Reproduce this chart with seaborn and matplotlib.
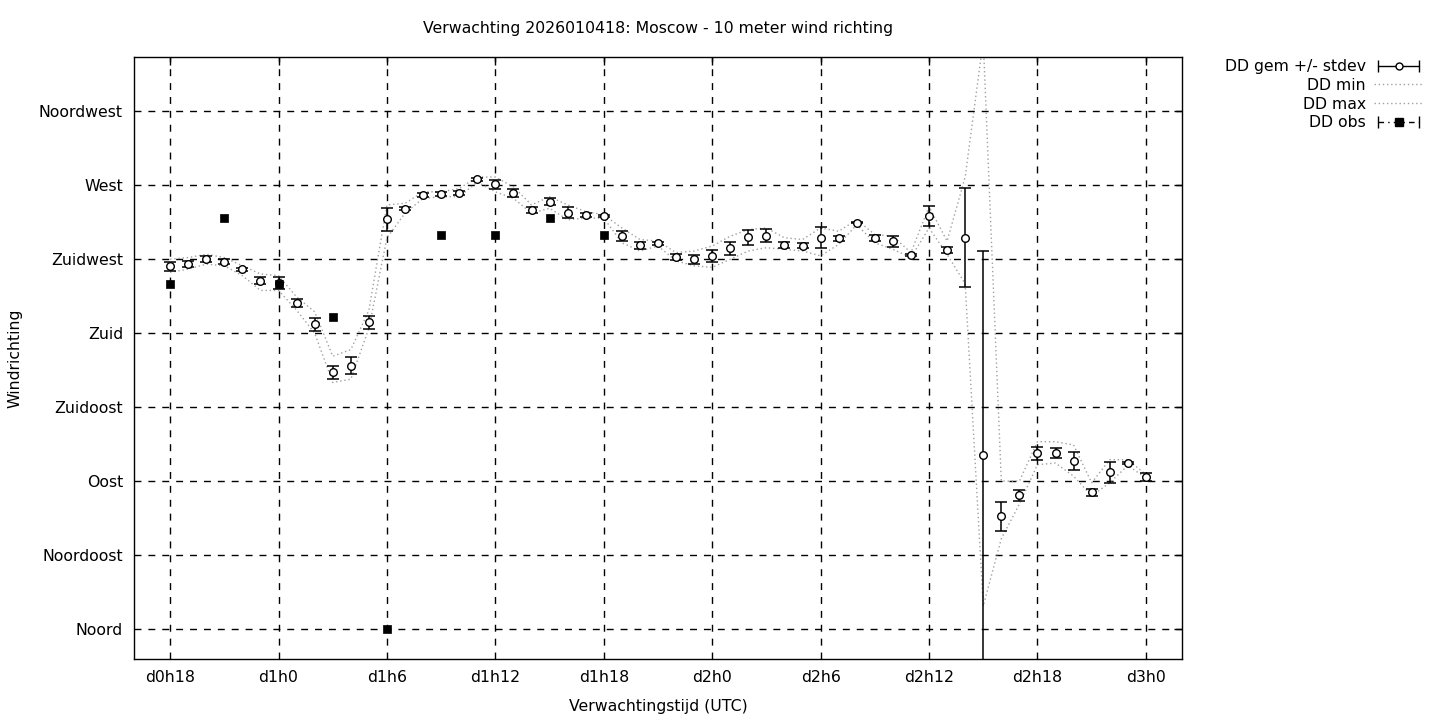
import numpy as np
import pandas as pd
import matplotlib
matplotlib.use("Agg")
import matplotlib.pyplot as plt
import seaborn as sns
from matplotlib.lines import Line2D
from matplotlib.legend_handler import HandlerLine2D

# ---------------- data ----------------
hours = [18, 19, 20, 21, 22, 23, 24, 25, 26, 27, 28, 29, 30, 31, 32, 33, 34, 35, 36,
         37, 38, 39, 40, 41, 42, 43, 44, 45, 46, 47, 48, 49, 50, 51, 52, 53, 54, 55,
         56, 57, 58, 59, 60, 61, 62, 63, 64, 65, 66, 67, 68, 69, 70, 71, 72]
dd_mean = [220.7, 222.0, 225.0, 223.6, 218.8, 211.9, 210.5, 198.3, 185.5, 156.3, 160.3,
           186.5, 249.3, 255.8, 264.1, 264.7, 265.3, 273.6, 270.6, 265.3, 255.1, 260.0,
           253.4, 251.8, 251.2, 239.2, 233.5, 234.6, 226.2, 225.0, 227.2, 231.7, 238.4,
           239.4, 233.5, 233.3, 238.2, 237.6, 247.3, 237.8, 235.8, 227.4, 251.2, 230.5,
           238.2, 105.6, 68.5, 81.3, 107.0, 107.0, 102.2, 83.1, 95.5, 101.0, 92.4]
dd_std = [2.7, 2.0, 1.9, 1.5, 0.8, 2.1, 3.4, 2.3, 4.0, 3.9, 5.3,
          3.8, 7.0, 0.8, 1.0, 1.0, 1.0, 0.8, 2.8, 2.2, 1.8, 2.0,
          3.2, 1.4, 0.5, 3.2, 2.1, 0.8, 1.9, 2.7, 3.7, 4.0, 4.6,
          4.0, 1.7, 1.7, 6.3, 1.5, 0.5, 2.0, 3.6, 0.5, 6.1, 1.8,
          29.9, 124.2, 8.7, 3.5, 4.0, 3.2, 5.4, 2.1, 6.4, 0.5, 2.3]
dd_min = [217, 219, 222, 221, 215, 206, 206, 194, 180, 150, 152,
          183, 238, 253, 262, 263, 263, 272, 266, 262, 253, 256,
          249, 250, 250, 235, 230, 233, 224, 221, 220, 225, 230,
          232, 231, 230, 227, 234, 246, 235, 231, 226, 244, 228,
          210, 14, 55, 76, 100, 101, 93, 81, 89, 99.5, 92]
dd_max = [225, 226, 228, 226, 221, 216, 215, 202, 193, 166, 170,
          194, 258, 259, 266, 266, 268, 275, 275, 269, 258, 263,
          258, 254, 252, 244, 237, 236, 229, 230, 233, 239, 243,
          244, 238, 237, 244, 242, 249, 240, 239, 229, 257, 236,
          275, 358, 90, 90, 114, 114, 112, 89, 103, 103, 94]
obs_hours = [18, 21, 24, 27, 30, 33, 36, 39, 42]
dd_obs = [210, 250, 210, 190, 0, 240, 240, 250, 240]

x_ticks = [18, 24, 30, 36, 42, 48, 54, 60, 66, 72]
x_labels = ["d0h18", "d1h0", "d1h6", "d1h12", "d1h18", "d2h0", "d2h6", "d2h12", "d2h18", "d3h0"]
y_ticks = [0, 45, 90, 135, 180, 225, 270, 315]
y_labels = ["Noord", "Noordoost", "Oost", "Zuidoost", "Zuid", "Zuidwest", "West", "Noordwest"]

title = "Verwachting 2026010418: Moscow - 10 meter wind richting"

df = pd.DataFrame({"uur": hours, "gem": dd_mean, "std": dd_std, "min": dd_min, "max": dd_max})
df_obs = pd.DataFrame({"uur": obs_hours, "obs": dd_obs})

# ---------------- style ----------------
sns.set_theme(style="white")
plt.rcParams["font.family"] = ["DejaVu Sans"]
plt.rcParams["text.color"] = "black"
plt.rcParams["axes.labelcolor"] = "black"
plt.rcParams["xtick.color"] = "black"
plt.rcParams["ytick.color"] = "black"
FS = 11.3

fig = plt.figure(figsize=(14.4, 7.2), dpi=100)
ax = fig.add_axes([134 / 1440, 1 - 659 / 720, (1182 - 134) / 1440, (659 - 57) / 720])

grey = "#a0a0a0"
dotted = (0, (1, 2))

sns.lineplot(data=df, x="uur", y="min", ax=ax, color=grey, lw=1, linestyle=dotted, zorder=2)
sns.lineplot(data=df, x="uur", y="max", ax=ax, color=grey, lw=1, linestyle=dotted, zorder=2)

ax.errorbar(df["uur"], df["gem"], yerr=df["std"], fmt="none", ecolor="black",
            elinewidth=1.1, capsize=4, capthick=1.1, zorder=3)
sns.scatterplot(data=df, x="uur", y="gem", ax=ax, marker="o", s=30,
                facecolor="white", edgecolor="black", linewidth=1.0, zorder=4)
sns.scatterplot(data=df_obs, x="uur", y="obs", ax=ax, marker="s", s=40,
                color="black", edgecolor="black", linewidth=0.5, zorder=5)

ax.set_xlim(16, 74)
ax.set_ylim(-18.2, 348)
ax.set_xticks(x_ticks)
ax.set_xticklabels(x_labels)
ax.set_yticks(y_ticks)
ax.set_yticklabels(y_labels)
ax.tick_params(axis="both", direction="in", length=6, width=1, top=True, right=True,
               labelsize=FS, colors="black", pad=8)
ax.grid(True, color="black", linestyle=(0, (5, 5)), linewidth=1)
for s in ax.spines.values():
    s.set_color("black")
    s.set_linewidth(1)

ax.set_xlabel("Verwachtingstijd (UTC)", fontsize=FS, labelpad=10)
ax.set_ylabel("Windrichting", fontsize=FS, labelpad=12)
fig.text(658 / 1440, 1 - 29 / 720, title, ha="center", va="center", fontsize=FS)

# ---------------- legend ----------------
h_mean_caps = Line2D([], [], color="black", lw=1, marker="|", markersize=8, markeredgewidth=1)
h_mean_pt = Line2D([], [], color="none", marker="o", markersize=5,
                   markerfacecolor="white", markeredgecolor="black", markeredgewidth=1)
h_min = Line2D([], [], color=grey, lw=1, linestyle=dotted)
h_max = Line2D([], [], color=grey, lw=1, linestyle=dotted)
h_obs_caps = Line2D([], [], color="black", lw=1, linestyle=(0, (4, 3, 1, 3)),
                    marker="|", markersize=8, markeredgewidth=1)
h_obs_pt = Line2D([], [], color="none", marker="s", markersize=6,
                  markerfacecolor="black", markeredgecolor="black")

fig.legend([(h_mean_caps, h_mean_pt), h_min, h_max, (h_obs_caps, h_obs_pt)],
           ["DD gem +/- stdev", "DD min", "DD max", "DD obs"],
           handler_map={h_mean_caps: HandlerLine2D(numpoints=2),
                        h_obs_caps: HandlerLine2D(numpoints=2)},
           loc="upper right", bbox_to_anchor=(1424 / 1440, 1 - 59 / 720),
           frameon=False, markerfirst=False, fontsize=FS,
           handlelength=3.2, handletextpad=0.5, labelspacing=0.24, borderpad=0,
           borderaxespad=0)

fig.savefig("out.png", dpi=100)
